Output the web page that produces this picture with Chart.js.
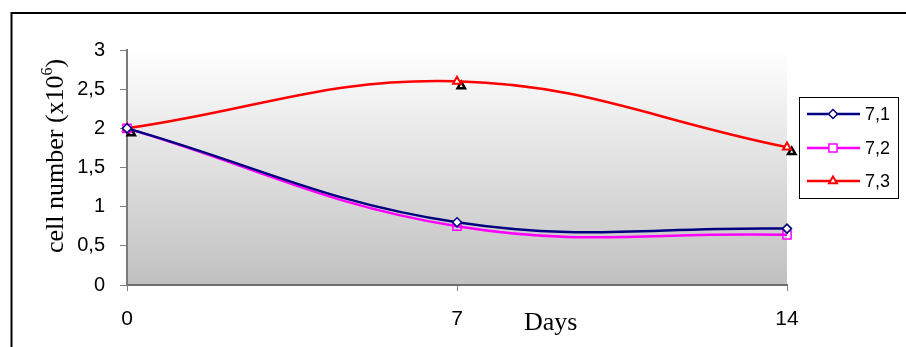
<!DOCTYPE html>
<html>
<head>
<meta charset="utf-8">
<script src="https://cdn.jsdelivr.net/npm/chart.js@4/dist/chart.umd.min.js"></script>
<style>
  html, body { margin: 0; padding: 0; background: #fff; overflow: hidden; }
  canvas { display: block; }
</style>
</head>
<body>
<canvas id="c" width="906" height="347"></canvas>
<script>
// Cell counts (x10^6) over 14 days at three pH values
const days = [0, 7, 14];
const xTicks = [0, 7, 14];
const yTickLabels = ['0', '0,5', '1', '1,5', '2', '2,5', '3'];
const seriesNames = ['7,1', '7,2', '7,3'];
const ph71 = [2.00, 0.80, 0.72];
const ph72 = [2.00, 0.75, 0.64];
const ph73 = [2.00, 2.60, 1.76];
// second reading of the pH 7,3 cultures, plotted as bare markers
const ph73bDays = [0.09, 7.09, 14.1];
const ph73b = [1.94, 2.54, 1.70];

const SANS = '"Liberation Sans", Arial, sans-serif';
const SERIF = '"Liberation Serif", "Times New Roman", serif';

const toXY = (xs, ys) => xs.map((x, i) => ({ x: x, y: ys[i] }));

const styles = [
  { color: '#000080', pointStyle: 'rectRot', radius: 4.5, fill: '#ffffff', bw: 1.5 },
  { color: '#ff00ff', pointStyle: 'rect', radius: 5.8, fill: 'rgba(255,255,255,0)', bw: 1.5 },
  { color: '#ff0000', pointStyle: 'triangle', radius: 4.6, fill: '#ffffff', bw: 2 }
];

const decor = {
  id: 'decor',
  beforeDraw(chart) {
    const ctx = chart.ctx, a = chart.chartArea;
    ctx.save();
    ctx.fillStyle = '#ffffff';
    ctx.fillRect(0, 0, chart.width, chart.height);
    const g = ctx.createLinearGradient(0, a.top, 0, a.bottom);
    g.addColorStop(0, '#ffffff');
    g.addColorStop(1, '#c0c0c0');
    ctx.fillStyle = g;
    ctx.fillRect(a.left, a.top, a.right - a.left, a.bottom - a.top);
    ctx.restore();
  },
  afterDraw(chart) {
    const ctx = chart.ctx;
    ctx.save();
    // outer frame
    ctx.strokeStyle = '#000000';
    ctx.lineWidth = 2;
    ctx.strokeRect(11.5, 13, 900, 400);

    // x axis title
    ctx.fillStyle = '#000000';
    ctx.font = '26px ' + SERIF;
    ctx.textAlign = 'left';
    ctx.textBaseline = 'alphabetic';
    ctx.fillText('Days', 524, 330);

    // y axis title with superscript exponent
    ctx.save();
    ctx.translate(63, 253);
    ctx.rotate(-Math.PI / 2);
    const main = 'cell number (x10';
    ctx.font = '26px ' + SERIF;
    ctx.fillText(main, 0, 0);
    let w = ctx.measureText(main).width;
    ctx.font = '16px ' + SERIF;
    ctx.fillText('6', w, -11);
    w += ctx.measureText('6').width;
    ctx.font = '26px ' + SERIF;
    ctx.fillText(')', w, 0);
    ctx.restore();

    // legend
    ctx.fillStyle = '#ffffff';
    ctx.fillRect(799.5, 97.5, 99, 101);
    ctx.strokeStyle = '#000000';
    ctx.lineWidth = 1;
    ctx.strokeRect(799.5, 97.5, 99, 101);
    const rows = [114, 148, 181];
    seriesNames.forEach((name, i) => {
      const s = styles[i], y = rows[i];
      ctx.strokeStyle = s.color;
      ctx.lineWidth = 2.5;
      ctx.beginPath();
      ctx.moveTo(807, y);
      ctx.lineTo(860, y);
      ctx.stroke();
      ctx.fillStyle = '#ffffff';
      ctx.strokeStyle = s.color;
      ctx.lineWidth = s.bw;
      Chart.helpers.drawPoint(ctx, { pointStyle: s.pointStyle, radius: s.radius, rotation: 0, borderWidth: s.bw }, 833, y);
      ctx.fillStyle = '#000000';
      ctx.font = '18px ' + SANS;
      ctx.textAlign = 'left';
      ctx.textBaseline = 'middle';
      ctx.fillText(name, 865, y + 1);
    });
    ctx.restore();
  }
};

const lineSet = (i, data) => ({
  label: seriesNames[i],
  data: toXY(days, data),
  borderColor: styles[i].color,
  backgroundColor: styles[i].fill,
  borderWidth: 2.5,
  tension: 0.4,
  pointStyle: styles[i].pointStyle,
  pointRadius: styles[i].radius,
  pointBorderWidth: styles[i].bw,
  pointBorderColor: styles[i].color,
  pointBackgroundColor: styles[i].fill,
  clip: false
});

new Chart(document.getElementById('c'), {
  type: 'line',
  data: {
    datasets: [
      lineSet(0, ph71),
      lineSet(1, ph72),
      lineSet(2, ph73),
      {
        label: '7,3 b',
        data: toXY(ph73bDays, ph73b),
        showLine: false,
        pointStyle: 'triangle',
        pointRadius: 4.2,
        pointBorderWidth: 2.5,
        pointBorderColor: '#000000',
        pointBackgroundColor: '#ffffff',
        clip: false
      }
    ]
  },
  options: {
    responsive: false,
    animation: false,
    devicePixelRatio: 1,
    layout: { padding: { left: 20, top: 50, right: 119, bottom: 0 } },
    plugins: { legend: { display: false }, tooltip: { enabled: false }, title: { display: false } },
    scales: {
      x: {
        type: 'linear',
        min: 0,
        max: 14,
        afterBuildTicks: s => { s.ticks = xTicks.map(v => ({ value: v })); },
        afterFit: s => { s.height = 62; },
        ticks: { color: '#000000', font: { family: SANS, size: 21 }, padding: 16, maxRotation: 0, autoSkip: false },
        grid: { drawOnChartArea: false, drawTicks: true, tickLength: 6, color: '#808080', lineWidth: 1 },
        border: { display: true, color: '#6e6e6e', width: 2 }
      },
      y: {
        min: 0,
        max: 3,
        afterFit: s => { s.width = 107; },
        ticks: {
          stepSize: 0.5,
          color: '#000000',
          font: { family: SANS, size: 20 },
          padding: 15,
          callback: (v) => yTickLabels[Math.round(v * 2)]
        },
        grid: { drawOnChartArea: false, drawTicks: true, tickLength: 7, color: '#808080', lineWidth: 1 },
        border: { display: true, color: '#7a7a7a', width: 2 }
      }
    }
  },
  plugins: [decor]
});
</script>
</body>
</html>
